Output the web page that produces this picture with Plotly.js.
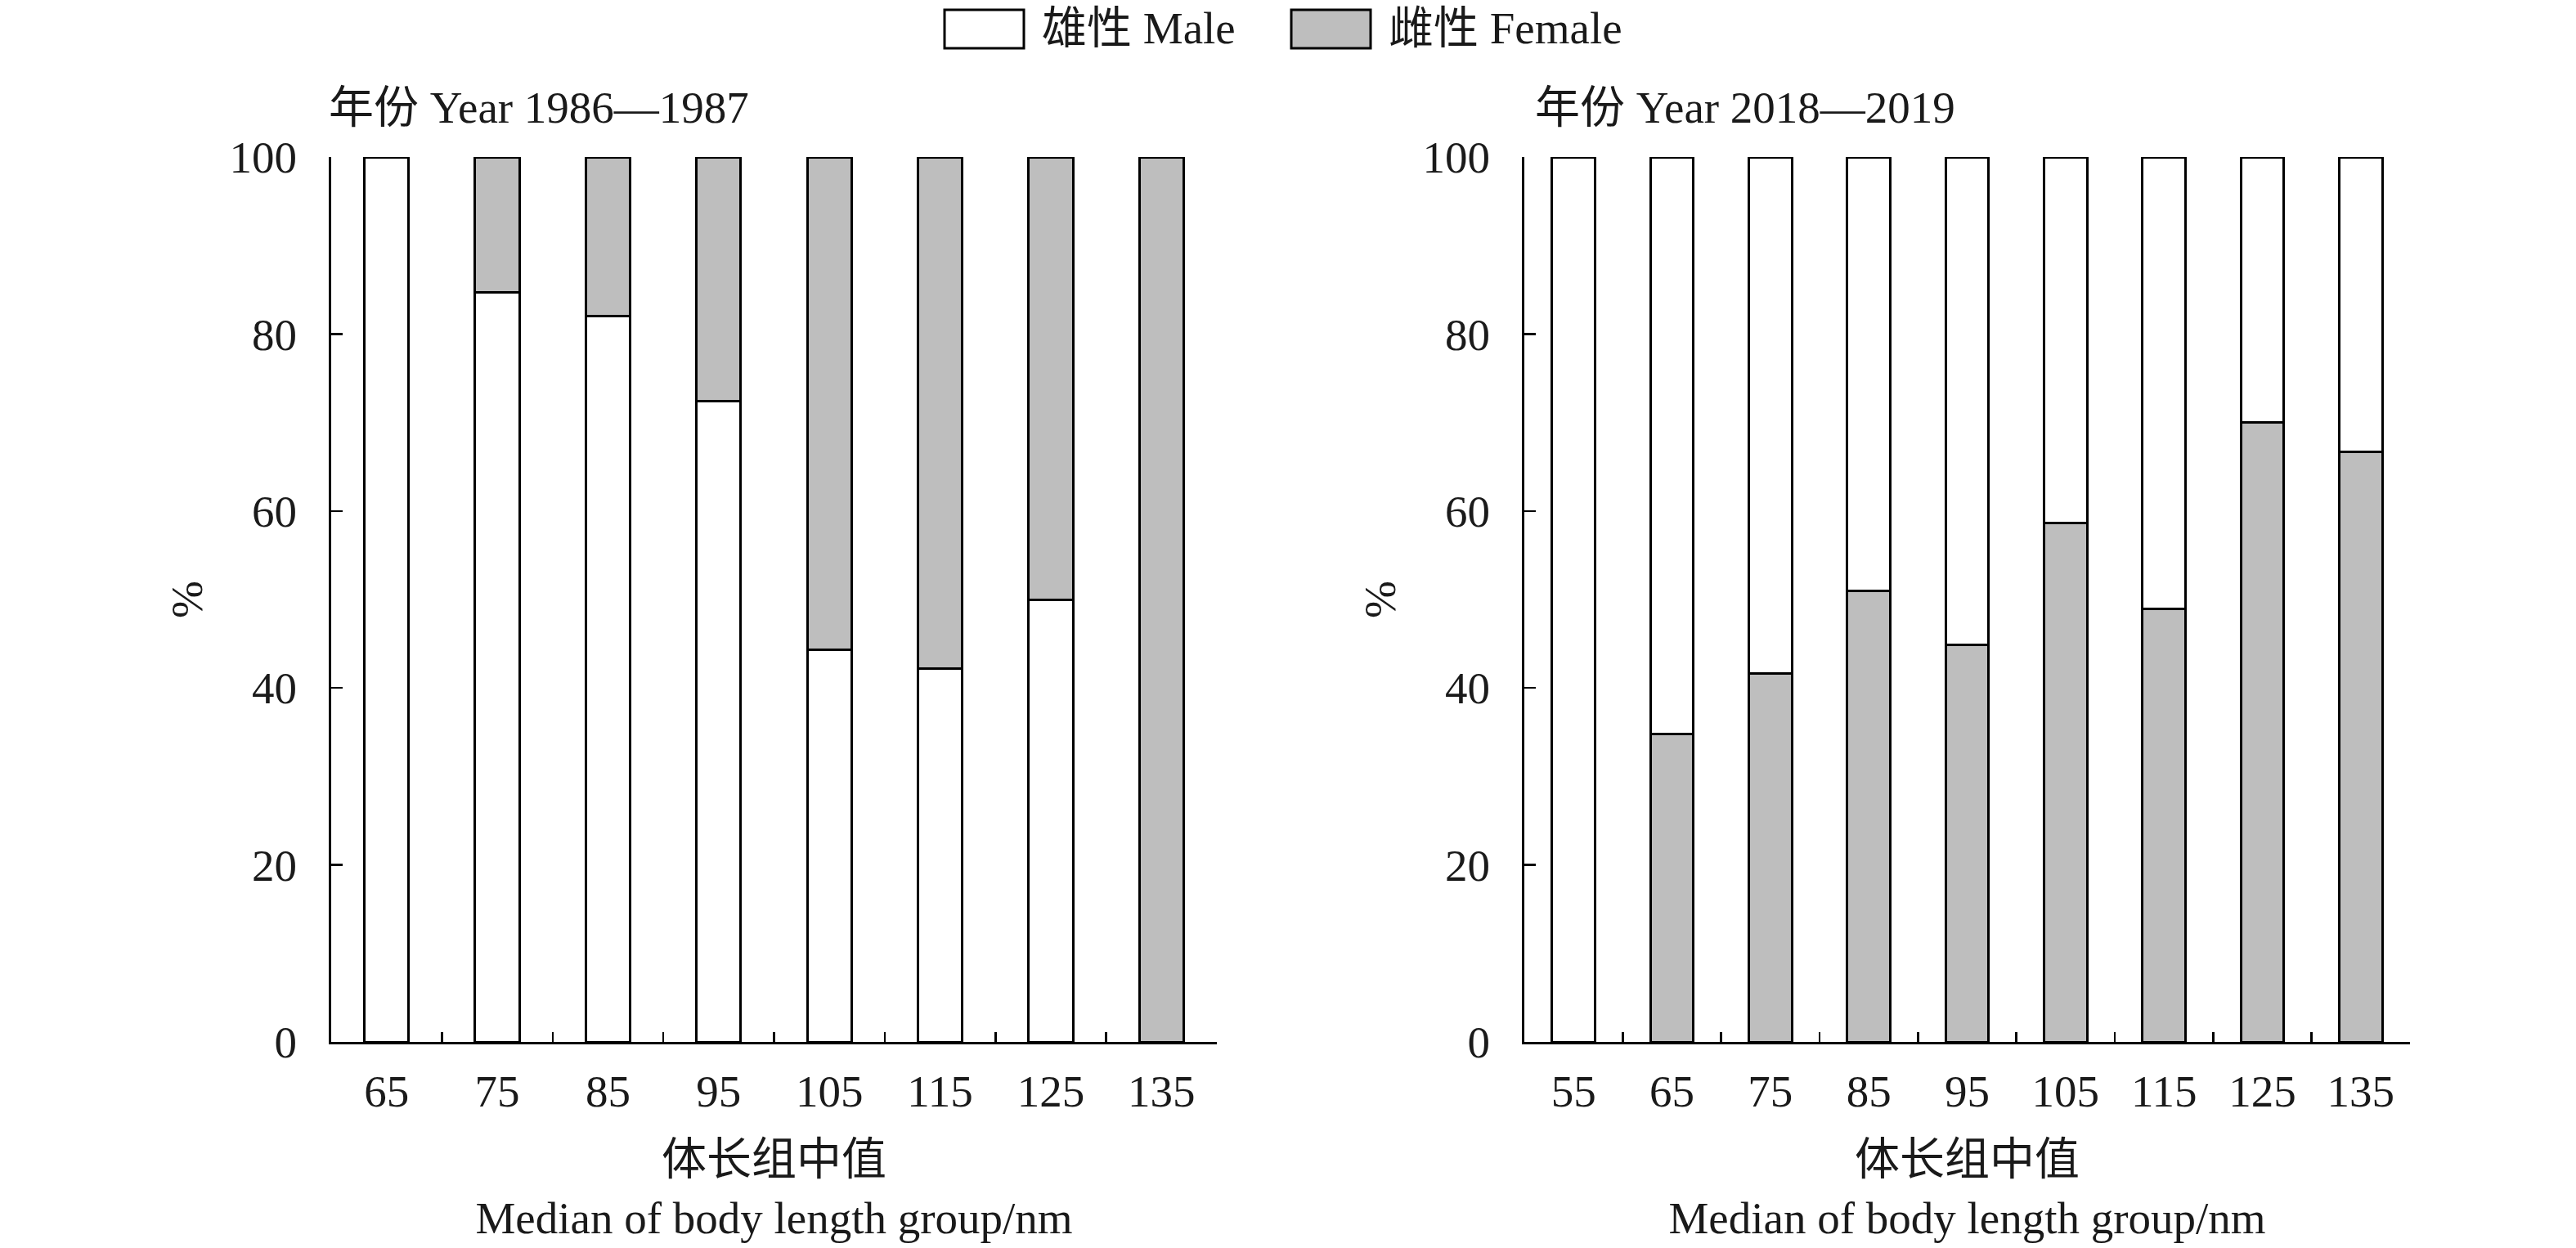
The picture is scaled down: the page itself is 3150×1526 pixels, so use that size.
<!DOCTYPE html>
<html>
<head>
<meta charset="utf-8">
<script src="https://cdn.plot.ly/plotly-3.0.1.min.js"></script>
<style>
  html, body { margin: 0; padding: 0; background: #ffffff; }
  #chart { width: 3150px; height: 1526px; }
</style>
</head>
<body>
<div id="chart"></div>
<script>
// ---------- data ----------
const seriesNames = ['雄性 Male', '雌性 Female'];
const panelTitles = ['年份 Year 1986—1987', '年份 Year 2018—2019'];
const xAxisTitle = '体长组中值<br>Median of body length group/nm';
const yAxisTitle = '%';

const lengthGroups1 = ['65', '75', '85', '95', '105', '115', '125', '135'];
const male1   = [100, 84.7, 82.0, 72.4, 44.3, 42.2, 50.0, 0];
const female1 = [0, 15.3, 18.0, 27.6, 55.7, 57.8, 50.0, 100];

const lengthGroups2 = ['55', '65', '75', '85', '95', '105', '115', '125', '135'];
const female2 = [0, 34.8, 41.6, 51.0, 44.9, 58.6, 48.9, 70.0, 66.7];
const male2   = [100, 65.2, 58.4, 49.0, 55.1, 41.4, 51.1, 30.0, 33.3];

const yTickVals = [0, 20, 40, 60, 80, 100];

// ---------- style ----------
const W = 3150, H = 1526;
const FONT = "'Liberation Serif', 'Times New Roman', 'Noto Sans CJK SC', serif";
const FS = 55;
const GREY = '#bebebe';
const px = v => v / W;
const py = v => 1 - v / H;

const lineStyle = { color: '#000000', width: 3 };

const traces = [
  { type: 'bar', x: lengthGroups1, y: male1, name: seriesNames[0], xaxis: 'x', yaxis: 'y',
    width: 0.4, marker: { color: '#ffffff', line: lineStyle }, showlegend: false },
  { type: 'bar', x: lengthGroups1, y: female1, name: seriesNames[1], xaxis: 'x', yaxis: 'y',
    width: 0.4, marker: { color: GREY, line: lineStyle }, showlegend: false },
  { type: 'bar', x: lengthGroups2, y: female2, name: seriesNames[1], xaxis: 'x2', yaxis: 'y2',
    width: 0.44, marker: { color: GREY, line: lineStyle }, showlegend: false },
  { type: 'bar', x: lengthGroups2, y: male2, name: seriesNames[0], xaxis: 'x2', yaxis: 'y2',
    width: 0.44, marker: { color: '#ffffff', line: lineStyle }, showlegend: false }
];

function xAxis(domain, n) {
  return {
    domain: domain, type: 'category', range: [-0.5, n - 0.5],
    showline: true, linecolor: '#000', linewidth: 3,
    ticks: 'inside', tickson: 'boundaries', ticklen: 12, tickwidth: 2.5, tickcolor: '#000',
    ticklabelstandoff: 10,
    showgrid: false, zeroline: false, fixedrange: true,
    tickfont: { family: FONT, size: FS, color: '#1a1a1a' },
    title: { text: xAxisTitle, font: { family: FONT, size: FS, color: '#1a1a1a' }, standoff: 34 }
  };
}
function yAxis(anchor) {
  return {
    domain: [1 - 1274 / H, 1 - 192 / H], anchor: anchor, range: [0, 100],
    tickvals: yTickVals, ticktext: yTickVals.map(String),
    showline: true, linecolor: '#000', linewidth: 3,
    ticks: 'inside', ticklen: 14, tickwidth: 2.5, tickcolor: '#000',
    ticklabelstandoff: 28,
    showgrid: false, zeroline: false, fixedrange: true,
    tickfont: { family: FONT, size: FS, color: '#1a1a1a' },
    title: { text: yAxisTitle, font: { family: FONT, size: FS, color: '#1a1a1a' }, standoff: 16 }
  };
}

const layout = {
  width: W, height: H,
  margin: { l: 0, r: 0, t: 0, b: 0 },
  paper_bgcolor: '#ffffff', plot_bgcolor: '#ffffff',
  barmode: 'stack',
  showlegend: false,
  font: { family: FONT, size: FS, color: '#1a1a1a' },
  xaxis: Object.assign(xAxis([px(405), px(1488)], lengthGroups1.length), { anchor: 'y' }),
  yaxis: yAxis('x'),
  xaxis2: Object.assign(xAxis([px(1864), px(2947)], lengthGroups2.length), { anchor: 'y2' }),
  yaxis2: yAxis('x2'),
  shapes: [
    { type: 'rect', xref: 'paper', yref: 'paper', x0: px(1155), x1: px(1252), y0: py(59), y1: py(12),
      fillcolor: '#ffffff', line: { color: '#000', width: 3 } },
    { type: 'rect', xref: 'paper', yref: 'paper', x0: px(1579), x1: px(1676), y0: py(59), y1: py(12),
      fillcolor: GREY, line: { color: '#000', width: 3 } }
  ],
  annotations: [
    { xref: 'paper', yref: 'paper', x: px(400), y: py(131), xanchor: 'left', yanchor: 'middle',
      text: panelTitles[0], showarrow: false, font: { family: FONT, size: FS, color: '#1a1a1a' } },
    { xref: 'paper', yref: 'paper', x: px(1875), y: py(131), xanchor: 'left', yanchor: 'middle',
      text: panelTitles[1], showarrow: false, font: { family: FONT, size: FS, color: '#1a1a1a' } },
    { xref: 'paper', yref: 'paper', x: px(1272), y: py(35), xanchor: 'left', yanchor: 'middle',
      text: seriesNames[0], showarrow: false, font: { family: FONT, size: FS, color: '#1a1a1a' } },
    { xref: 'paper', yref: 'paper', x: px(1696), y: py(35), xanchor: 'left', yanchor: 'middle',
      text: seriesNames[1], showarrow: false, font: { family: FONT, size: FS, color: '#1a1a1a' } }
  ]
};

Plotly.newPlot('chart', traces, layout, { displayModeBar: false, staticPlot: true });
</script>
</body>
</html>
